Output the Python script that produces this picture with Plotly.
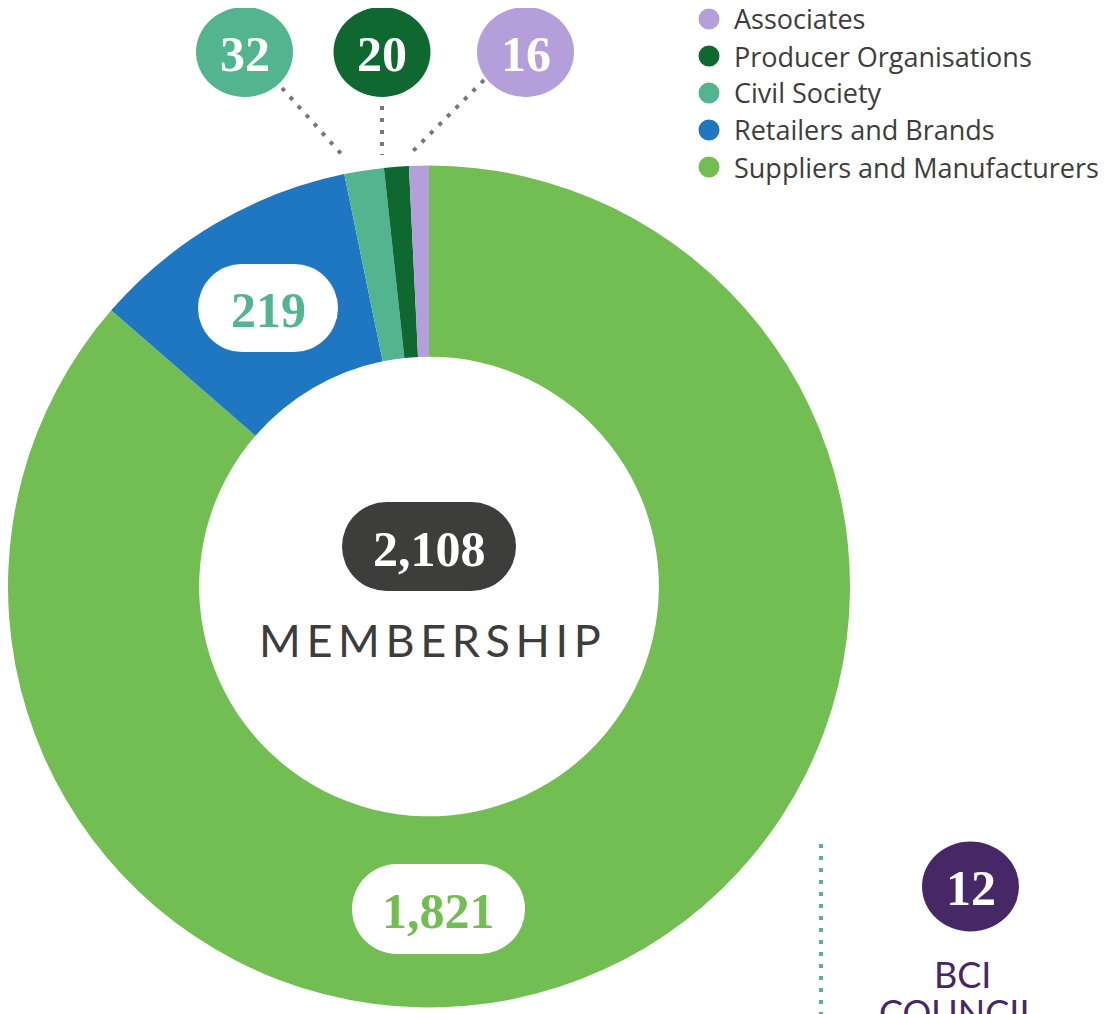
import plotly.graph_objects as go

# ── Data ──────────────────────────────────────────────────────────────────────
categories = ["Suppliers and Manufacturers", "Retailers and Brands",
              "Civil Society", "Producer Organisations", "Associates"]
members = [1821, 219, 32, 20, 16]
colours = ["#72be52", "#1f76c1", "#52b590", "#106831", "#b49fdb"]
council_members = 12

W, H = 1107, 1014
OFF = 8  # page body margin, so layout numbers below are window pixels
SERIF = "Liberation Serif"
SANS = "Lato"
LEGEND_FONT = "Open Sans"
INK = "#3d3d3c"
PURPLE = "#472866"


def px(x):
    return (x - OFF) / W


def py(y):
    return 1 - (y - OFF) / H


shapes, notes = [], []


def ellipse(cx, cy, w, h, colour):
    shapes.append(dict(type="circle", xref="paper", yref="paper",
                       x0=px(cx - w / 2), x1=px(cx + w / 2),
                       y0=py(cy + h / 2), y1=py(cy - h / 2),
                       fillcolor=colour, line=dict(width=0), layer="above"))


def pill(x0, x1, y0, y1, colour):
    h = y1 - y0
    ellipse(x0 + h / 2, (y0 + y1) / 2, h, h, colour)
    ellipse(x1 - h / 2, (y0 + y1) / 2, h, h, colour)
    shapes.append(dict(type="rect", xref="paper", yref="paper",
                       x0=px(x0 + h / 2), x1=px(x1 - h / 2), y0=py(y1), y1=py(y0),
                       fillcolor=colour, line=dict(width=0), layer="above"))


def dotted(x0, y0, x1, y1, colour):
    shapes.append(dict(type="line", xref="paper", yref="paper",
                       x0=px(x0), y0=py(y0), x1=px(x1), y1=py(y1),
                       line=dict(color=colour, width=4, dash="4px,8px"), layer="above"))


def label(x, y, text, size, colour, family=SERIF, bold=True, anchor="center"):
    notes.append(dict(x=px(x), y=py(y), xref="paper", yref="paper",
                      text=f"<b>{text}</b>" if bold else text, showarrow=False,
                      xanchor=anchor, yanchor="middle",
                      font=dict(family=family, size=size, color=colour)))


# ── Donut ─────────────────────────────────────────────────────────────────────
cx, cy, r = 429, 586.5, 421
fig = go.Figure(go.Pie(
    labels=categories,
    values=members,
    marker=dict(colors=colours, line=dict(width=0)),
    hole=0.546,
    sort=False,
    direction="clockwise",
    rotation=0,
    textinfo="none",
    hoverinfo="label+value",
    domain=dict(x=[px(cx - r), px(cx + r)], y=[py(cy + r), py(cy - r)]),
    showlegend=False,
))

# ── Small-slice callouts (bubbles above the ring) ─────────────────────────────
bubble_x = {"Civil Society": 244.5, "Producer Organisations": 382, "Associates": 525.5}
leaders = {"Civil Society": (282, 88, 344, 157),
           "Producer Organisations": (382, 106, 382, 155),
           "Associates": (484, 80, 412, 152)}
for name, val, col in zip(categories, members, colours):
    if name in bubble_x:
        dotted(*leaders[name], "#777777")
        ellipse(bubble_x[name], 52, 97, 90, col)
        label(bubble_x[name], 54, f"{val:,}", 50, "white")

# Big-slice labels in white pills
pill(198, 338, 264, 352, "white")
label(268, 310, f"{members[1]:,}", 50, colours[2])
pill(352, 525, 864, 954, "white")
label(438.5, 911, f"{members[0]:,}", 50, colours[0])

# Centre total
pill(342, 516, 502, 591, INK)
label(429, 549, f"{sum(members):,}", 50, "white")
label(430, 640, "M\u2009E\u2009M\u2009B\u2009E\u2009R\u2009S\u2009H\u2009I\u2009P",
      45, INK, family=SANS, bold=False)

# ── Legend (circles + labels, top right) ─────────────────────────────────────
for i, (name, col) in enumerate(zip(categories[::-1], colours[::-1])):
    y = 19 + i * 37
    ellipse(709, y, 21, 21, col)
    label(732, y, name, 27, INK, family=LEGEND_FONT, bold=False, anchor="left")

# ── BCI Council ──────────────────────────────────────────────────────────────
dotted(821, 844, 821, 1024, "#52b590")
ellipse(970.5, 886.5, 97, 90, PURPLE)
label(970.5, 888, f"{council_members}", 50, "white")
label(962.5, 974, "BCI", 36, PURPLE, family=SANS, bold=False)
label(958, 1012, "COUNCIL", 36, PURPLE, family=SANS, bold=False)

fig.update_layout(
    width=W, height=H,
    margin=dict(t=0, b=0, l=0, r=0),
    paper_bgcolor="white",
    plot_bgcolor="white",
    shapes=shapes,
    annotations=notes,
    showlegend=False,
)

fig.write_html("out.html")
